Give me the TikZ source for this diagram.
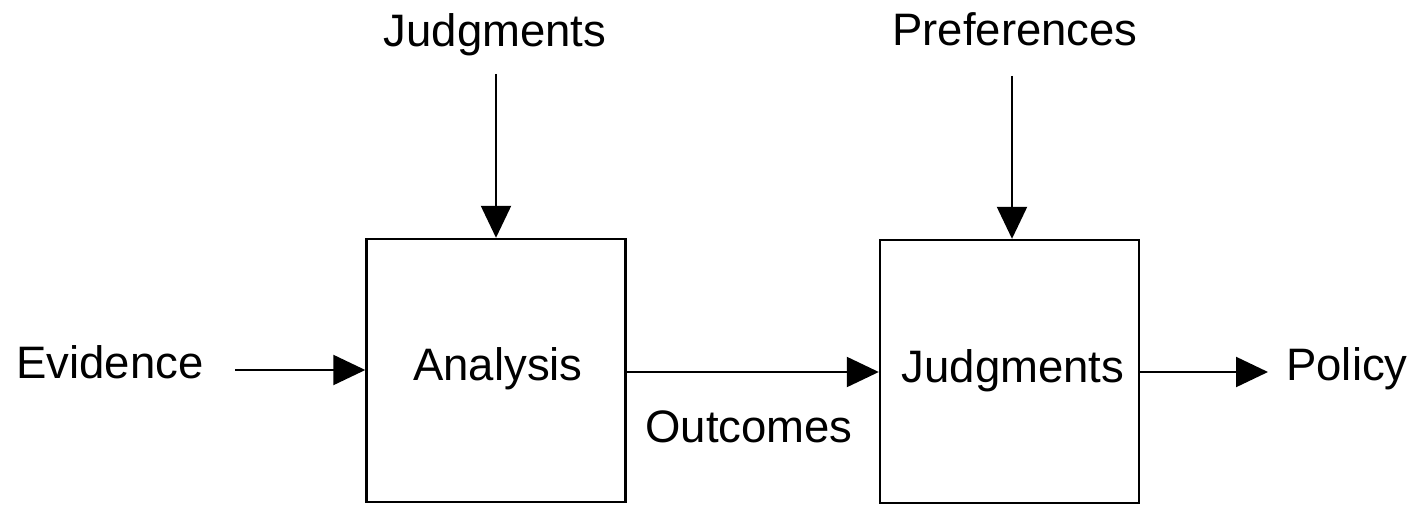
\documentclass[tikz,border=0pt]{standalone}
\usepackage{fontspec}
\setmainfont{Liberation Sans}
\usetikzlibrary{arrows.meta}
\begin{document}
\begin{tikzpicture}[x=1pt,y=1pt,
  lbl/.style={font=\fontsize{45.5}{50}\selectfont, anchor=base, inner sep=0pt},
  boxnode/.style={draw, line width=2.4pt, minimum width=259pt, minimum height=263pt, inner sep=0pt},
  conn/.style={line width=2.2pt, -{Triangle[length=32pt,width=30pt]}}]
\useasboundingbox (0,0) rectangle (1416,-505);
\node[boxnode] (ana) at (496,-370.5) {};
\node[boxnode] (jud) at (1009.5,-371.5) {};
\node[lbl] (anat) at (498,-380) {Analysis};
\node[lbl] (judt) at (1013,-382) {Judgments};
\node[lbl] (topj) at (495,-47) {Judgments};
\node[lbl] (pref) at (1015,-46) {Preferences};
\node[lbl] (evid) at (110,-378) {Evidence};
\node[lbl] (pol) at (1347,-380) {Policy};
\node[lbl] (outc) at (749,-442) {Outcomes};
\coordinate (j0) at (496,-74);
\coordinate (p0) at (1012,-76);
\coordinate (e0) at (235,-370);
\coordinate (pe) at (1268,-372);
\draw[conn] (j0) -- (j0 |- ana.north);
\draw[conn] (p0) -- (p0 |- jud.north);
\draw[conn] (e0) -- (e0 -| ana.west);
\draw[conn] (ana.east |- 0,-372) -- (jud.west |- 0,-372);
\draw[conn] (jud.east |- pe) -- (pe);
\end{tikzpicture}
\end{document}
